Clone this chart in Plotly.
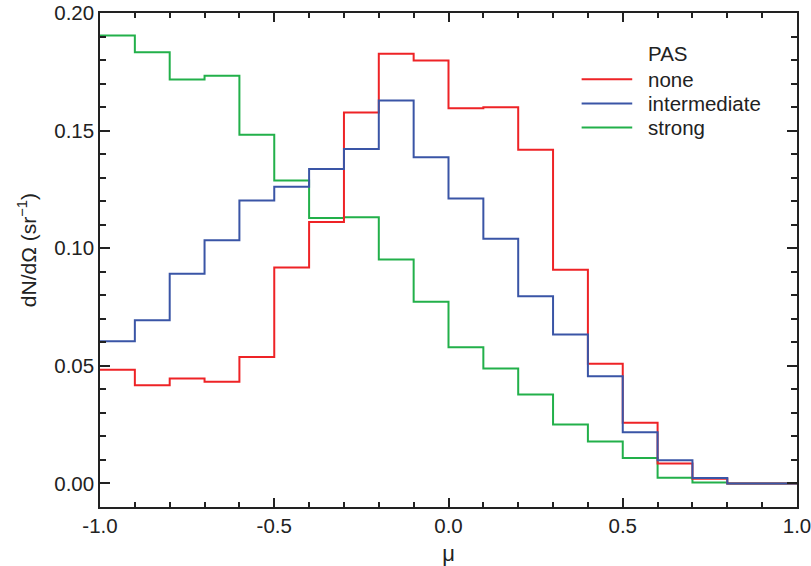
import numpy as np
import plotly.graph_objects as go

# Pitch-angle distribution histograms, 20 bins in mu from -1 to 1
bin_edges = np.round(np.linspace(-1.0, 1.0, 21), 2)

none_vals = [0.0483, 0.0418, 0.0446, 0.0432, 0.0538, 0.0918, 0.1112, 0.1577, 0.1827, 0.1798,
             0.1595, 0.1599, 0.1419, 0.0909, 0.0509, 0.0258, 0.0085, 0.0020, 0.0000, 0.0000]
intermediate_vals = [0.0605, 0.0694, 0.0892, 0.1034, 0.1203, 0.1261, 0.1337, 0.1422, 0.1628, 0.1387,
                     0.1211, 0.1040, 0.0796, 0.0633, 0.0456, 0.0218, 0.0099, 0.0023, 0.0000, 0.0000]
strong_vals = [0.1904, 0.1833, 0.1717, 0.1733, 0.1482, 0.1288, 0.1129, 0.1132, 0.0952, 0.0772,
               0.0579, 0.0489, 0.0378, 0.0251, 0.0178, 0.0108, 0.0024, 0.0004, 0.0000, 0.0000]

x_tick_vals = [-1.0, -0.5, 0.0, 0.5, 1.0]
x_tick_text = ["-1.0", "-0.5", "0.0", "0.5", "1.0"]
y_tick_vals = [0.00, 0.05, 0.10, 0.15, 0.20]
y_tick_text = ["0.00", "0.05", "0.10", "0.15", "0.20"]

series = [
    ("strong", strong_vals, "#22b04a"),
    ("none", none_vals, "#ee2326"),
    ("intermediate", intermediate_vals, "#3a55a6"),
]
legend_order = [("none", "#ee2326"), ("intermediate", "#3a55a6"), ("strong", "#22b04a")]

FONT = "Liberation Sans, Arial, sans-serif"
TXT = "#222222"
FS = 20.5

fig = go.Figure()
for name, vals, color in series:
    fig.add_trace(go.Scatter(
        x=bin_edges, y=list(vals) + [vals[-1]],
        mode="lines", line=dict(color=color, width=2, shape="hv"),
        name=name, showlegend=False, hoverinfo="skip",
    ))

# Hand-drawn legend block
leg_x0, leg_x1, leg_tx = 0.691, 0.7636, 0.7834
fig.add_annotation(x=leg_tx, y=0.919, xref="paper", yref="paper", text="PAS",
                   showarrow=False, xanchor="left", yanchor="middle",
                   font=dict(family=FONT, size=FS, color=TXT))
for i, (name, color) in enumerate(legend_order):
    yy = 0.8658 - i * 0.0488
    fig.add_shape(type="line", xref="paper", yref="paper", x0=leg_x0, x1=leg_x1, y0=yy, y1=yy,
                  line=dict(color=color, width=2))
    fig.add_annotation(x=leg_tx, y=yy, xref="paper", yref="paper", text=name,
                       showarrow=False, xanchor="left", yanchor="middle",
                       font=dict(family=FONT, size=FS, color=TXT))

# Y-axis title, placed as a rotated annotation
fig.add_annotation(x=-0.1047, y=0.52, xref="paper", yref="paper",
                   text="dN/dΩ (sr<sup>−1</sup>)", textangle=-90,
                   showarrow=False, xanchor="center", yanchor="middle",
                   font=dict(family=FONT, size=21, color=TXT))

axis_common = dict(
    showgrid=False, zeroline=False, showline=True, linecolor="#222222", linewidth=1.5,
    mirror="ticks", ticks="inside", tickcolor="#222222", tickwidth=1.5,
    tickfont=dict(family=FONT, size=FS, color=TXT), automargin=False,
    tickmode="array", ticklabeloverflow="allow",
)

fig.update_xaxes(
    range=[-1.0, 1.0], tickvals=x_tick_vals, ticktext=x_tick_text, ticklen=9,
    minor=dict(tickmode="linear", tick0=-1.0, dtick=0.1, ticks="inside", ticklen=5,
               tickcolor="#222222", tickwidth=1.5),
    title=dict(text="μ", font=dict(family=FONT, size=22, color=TXT), standoff=20),
    **axis_common,
)
fig.update_yaxes(
    range=[-0.01, 0.20], tickvals=y_tick_vals, ticktext=y_tick_text, ticklen=10,
    minor=dict(tickmode="linear", tick0=0.0, dtick=0.01, ticks="inside", ticklen=6,
               tickcolor="#222222", tickwidth=1.5),
    **axis_common,
)

fig.update_layout(
    width=811, height=566,
    margin=dict(l=100, r=14, t=13, b=59),
    plot_bgcolor="white", paper_bgcolor="white",
    font=dict(family=FONT, color=TXT),
)

fig.write_html("out.html")
